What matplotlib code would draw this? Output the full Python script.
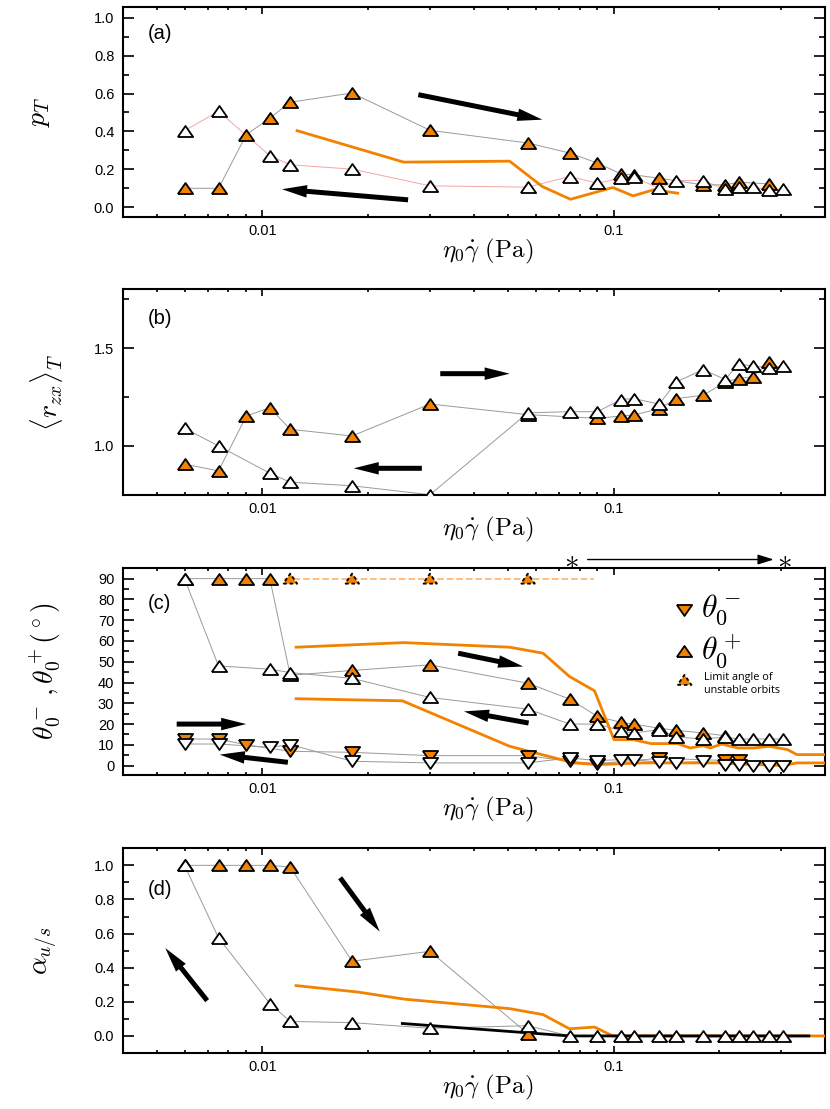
import numpy as np
import matplotlib
matplotlib.use("Agg")
import matplotlib.pyplot as plt
from matplotlib.ticker import LogLocator, NullFormatter, FixedLocator, MultipleLocator

plt.rcParams['font.family'] = ['Liberation Sans', 'DejaVu Sans']
plt.rcParams['mathtext.fontset'] = 'cm'

ORANGE = '#F28200'

# ---------------- data ----------------
# panel (a)  p_T
a_or_x = [0.006, 0.0075, 0.009, 0.0105, 0.012, 0.018, 0.030, 0.057, 0.075, 0.090, 0.105, 0.114, 0.135, 0.180, 0.208, 0.227, 0.278]
a_or_y = [0.10, 0.10, 0.383, 0.47, 0.554, 0.603, 0.406, 0.339, 0.286, 0.233, 0.176, 0.171, 0.153, 0.118, 0.118, 0.132, 0.123]
a_wh_x = [0.006, 0.0075, 0.0105, 0.012, 0.018, 0.030, 0.057, 0.075, 0.090, 0.105, 0.114, 0.135, 0.151, 0.180, 0.208, 0.227, 0.249, 0.278, 0.304]
a_wh_y = [0.404, 0.506, 0.272, 0.224, 0.201, 0.113, 0.106, 0.162, 0.127, 0.153, 0.159, 0.100, 0.141, 0.141, 0.095, 0.109, 0.106, 0.092, 0.095]
a_cur_x = [0.01255, 0.02527, 0.0506, 0.0627, 0.0754, 0.0995, 0.1137, 0.130, 0.1524]
a_cur_y = [0.404, 0.238, 0.243, 0.109, 0.042, 0.104, 0.060, 0.092, 0.074]

# panel (b)  <r_zx>_T
b_or_x = [0.006, 0.0075, 0.009, 0.0105, 0.012, 0.018, 0.030, 0.057, 0.090, 0.105, 0.114, 0.135, 0.151, 0.180, 0.208, 0.227, 0.249, 0.278]
b_or_y = [0.907, 0.873, 1.153, 1.195, 1.085, 1.051, 1.214, 1.160, 1.141, 1.153, 1.158, 1.190, 1.242, 1.259, 1.327, 1.344, 1.353, 1.429]
b_wh_x = [0.006, 0.0075, 0.0105, 0.012, 0.018, 0.030, 0.057, 0.075, 0.090, 0.105, 0.114, 0.135, 0.151, 0.180, 0.208, 0.227, 0.249, 0.278, 0.304]
b_wh_y = [1.09, 1.00, 0.861, 0.815, 0.797, 0.751, 1.169, 1.175, 1.175, 1.237, 1.242, 1.214, 1.327, 1.39, 1.339, 1.42, 1.407, 1.40, 1.407]

# panel (c)  theta0-, theta0+
c_upw_x = [0.006, 0.0075, 0.0105, 0.012, 0.018, 0.030, 0.057, 0.075, 0.090, 0.105, 0.114, 0.135, 0.151, 0.180, 0.208, 0.227, 0.249, 0.278, 0.304]
c_upw_y = [90, 48, 46.4, 44.8, 42, 32.8, 27.2, 20, 20, 16.8, 15.7, 17.3, 13.8, 12.8, 13.8, 12.8, 12.8, 12.8, 12.8]
c_upo_x = [0.006, 0.0075, 0.009, 0.0105, 0.012, 0.018, 0.030, 0.057, 0.075, 0.090, 0.105, 0.114, 0.135, 0.151, 0.180, 0.208]
c_upo_y = [90, 90, 90, 90, 43.5, 45.8, 48.5, 39.7, 32, 23.7, 20.8, 20, 18, 17, 15.7, 14.4]
c_lim_x = [0.012, 0.018, 0.030, 0.057]
c_lim_y = [90, 90, 90, 90]
c_lim_line_x = [0.0115, 0.088]
c_lim_line_y = [90, 90]
c_dnw_x = [0.006, 0.0075, 0.0105, 0.012, 0.018, 0.030, 0.057, 0.075, 0.090, 0.105, 0.114, 0.135, 0.151, 0.180, 0.208, 0.227, 0.249, 0.278, 0.304]
c_dnw_y = [10.4, 10.4, 8.8, 10.1, 2.1, 1.3, 1.3, 3.7, 2.4, 2.9, 2.9, 1.6, 1.3, 2.0, 0.5, 0.5, 0, 0, 0]
c_dno_x = [0.006, 0.0075, 0.009, 0.012, 0.018, 0.030, 0.057, 0.075, 0.090, 0.135, 0.208, 0.227]
c_dno_y = [12.8, 12.8, 10.0, 6.9, 6.4, 4.8, 4.8, 2.0, 1.0, 3.5, 2.5, 2.5]
c_cu_x = [0.01247, 0.02527, 0.0506, 0.0630, 0.0749, 0.0883, 0.1003, 0.1137, 0.128, 0.1524, 0.1652, 0.180, 0.1887, 0.2033, 0.2258, 0.2506, 0.278, 0.313, 0.3326, 0.3973]
c_cu_y = [57, 59.2, 57, 54.1, 42.9, 36, 12.5, 12.5, 10.6, 10.6, 8.5, 9.6, 8.5, 10.4, 8.5, 8.5, 9.3, 7.7, 5.3, 5.3]
c_cl_x = [0.01247, 0.02503, 0.0506, 0.0772, 0.0896, 0.1207, 0.2128, 0.304, 0.3326, 0.3973]
c_cl_y = [32.2, 31.2, 9.3, 1.3, 0.5, 1.3, 1.3, 0.0, 1.3, 1.3]

# panel (d)  alpha_u/s
d_wh_x = [0.006, 0.0075, 0.0105, 0.012, 0.018, 0.030, 0.057, 0.075, 0.090, 0.105, 0.114, 0.135, 0.151, 0.180, 0.208, 0.227, 0.249, 0.278, 0.304]
d_wh_y = [1.0, 0.575, 0.19, 0.085, 0.078, 0.045, 0.06, 0, 0, 0, 0, 0, 0, 0, 0, 0, 0, 0, 0]
d_or_x = [0.006, 0.0075, 0.009, 0.0105, 0.012, 0.018, 0.030, 0.057]
d_or_y = [1.0, 1.0, 1.0, 1.0, 0.99, 0.438, 0.496, 0.013]
d_cur_x = [0.01247, 0.01875, 0.02527, 0.0506, 0.0630, 0.0749, 0.0883, 0.0995, 0.40]
d_cur_y = [0.295, 0.257, 0.216, 0.160, 0.125, 0.042, 0.052, 0.0, 0.0]
d_blk_x = [0.02503, 0.0749, 0.36]
d_blk_y = [0.073, 0.0, 0.0]

# ---------------- style helpers ----------------
UP = [(-1, -0.72), (1, -0.72), (0, 0.72), (-1, -0.72)]
DN = [(-1, 0.72), (1, 0.72), (0, -0.72), (-1, 0.72)]
MS = 11
MEW = 1.3
GREY = '#9a9a9a'
PINK = '#f4a6a6'


def conn(ax, x, y, color=GREY):
    ax.plot(x, y, '-', color=color, lw=0.7, zorder=2)


def mark(ax, x, y, fc, marker=UP, z=4):
    ax.plot(x, y, linestyle='none', marker=marker, ms=MS, mfc=fc, mec='k', mew=MEW, zorder=z)


def arrow(ax, x0, y0, x1, y1):
    ax.annotate('', xy=(x1, y1), xytext=(x0, y0),
                arrowprops=dict(arrowstyle='simple,head_length=1.8,head_width=0.9,tail_width=0.36',
                                lw=0, fc='k', ec='none', shrinkA=0, shrinkB=0, mutation_scale=10),
                annotation_clip=False, zorder=6)


def setup(ax, ylim, major, minor, labels_fmt, ylabel, ylabel_x, panel, panel_y):
    ax.set_xscale('log')
    ax.set_xlim(0.004, 0.4)
    ax.set_ylim(*ylim)
    ax.xaxis.set_major_locator(FixedLocator([0.01, 0.1]))
    ax.set_xticklabels(['0.01', '0.1'])
    ax.xaxis.set_minor_locator(LogLocator(base=10, subs=np.arange(2, 10), numticks=20))
    ax.xaxis.set_minor_formatter(NullFormatter())
    ax.yaxis.set_major_locator(MultipleLocator(major))
    ax.yaxis.set_minor_locator(MultipleLocator(minor))
    ax.yaxis.set_major_formatter(matplotlib.ticker.FormatStrFormatter(labels_fmt))
    ax.tick_params(which='both', direction='in', top=True, right=True, width=1.2, labelsize=10.5)
    ax.tick_params(axis='x', which='major', length=5, pad=5)
    ax.tick_params(axis='x', which='minor', length=2.5)
    ax.tick_params(axis='y', which='major', length=8, pad=6)
    ax.tick_params(axis='y', which='minor', length=4)
    for s in ax.spines.values():
        s.set_linewidth(1.5)
    ax.set_xlabel(r'$\eta_0\dot{\gamma}\ (\mathrm{Pa})$', fontsize=18)
    ax.xaxis.set_label_coords(0.52, -0.095)
    ax.set_ylabel(ylabel, fontsize=20)
    ax.yaxis.set_label_coords(ylabel_x, 0.5)
    ax.text(0.036, panel_y, panel, transform=ax.transAxes, fontsize=14.5, va='center', ha='left')


fig = plt.figure(figsize=(8.3, 11.09), dpi=100)
L, W = 0.1478, 0.8461
ax_a = fig.add_axes([L, 0.8046, W, 0.1888])
ax_b = fig.add_axes([L, 0.5537, W, 0.1855])
ax_c = fig.add_axes([L, 0.3012, W, 0.1864])
ax_d = fig.add_axes([L, 0.0505, W, 0.1846])

# ---- (a)
ax = ax_a
setup(ax, (-0.05, 1.055), 0.2, 0.1, '%.1f', r'$p_T$', -0.10, '(a)', 0.877)
conn(ax, a_wh_x, a_wh_y, PINK)
conn(ax, a_or_x, a_or_y)
ax.plot(a_cur_x, a_cur_y, '-', color=ORANGE, lw=2.0, zorder=3)
mark(ax, a_or_x, a_or_y, ORANGE)
mark(ax, a_wh_x, a_wh_y, 'white', z=5)
arrow(ax, 0.0278, 0.594, 0.0627, 0.462)
arrow(ax, 0.026, 0.039, 0.01137, 0.095)

# ---- (b)
ax = ax_b
setup(ax, (0.75, 1.8), 0.5, 0.25, '%.1f', r'$\langle r_{zx}\rangle_T$', -0.082, '(b)', 0.86)
conn(ax, b_wh_x, b_wh_y)
conn(ax, b_or_x, b_or_y)
mark(ax, b_or_x, b_or_y, ORANGE)
mark(ax, b_wh_x, b_wh_y, 'white', z=5)
arrow(ax, 0.0321, 1.369, 0.0506, 1.369)
arrow(ax, 0.02845, 0.886, 0.0182, 0.886)

# ---- (c)
ax = ax_c
setup(ax, (-4.5, 95), 10, 5, '%d', r'$\theta_0^-\,,\theta_0^+(^\circ)$', -0.087, '(c)', 0.83)
conn(ax, c_upw_x, c_upw_y)
conn(ax, c_upo_x, c_upo_y)
conn(ax, c_dnw_x, c_dnw_y)
conn(ax, c_dno_x, c_dno_y)
ax.plot(c_lim_line_x, c_lim_line_y, '--', color='#FFB878', lw=1.3, zorder=2)
ax.plot(c_cu_x, c_cu_y, '-', color=ORANGE, lw=2.0, zorder=3)
ax.plot(c_cl_x, c_cl_y, '-', color=ORANGE, lw=2.0, zorder=3)
mark(ax, c_upo_x, c_upo_y, ORANGE)
mark(ax, c_upw_x, c_upw_y, 'white', z=5)
mark(ax, c_dno_x, c_dno_y, ORANGE, DN)
mark(ax, c_dnw_x, c_dnw_y, 'white', DN, z=5)
ax.scatter(c_lim_x, c_lim_y, marker=UP, s=(MS - 1) ** 2, facecolors=ORANGE, edgecolors='k',
           linewidths=1.3, linestyles=(0, (2, 1.5)), zorder=6)
arrow(ax, 0.0361, 54.1, 0.0553, 47.7)
arrow(ax, 0.0573, 20.5, 0.0375, 26.1)
arrow(ax, 0.0057, 20, 0.00899, 20)
arrow(ax, 0.01182, 1.6, 0.00756, 5.3)
# top annotation
ax.annotate('', xy=(0.286, 99.2), xytext=(0.0844, 99.2),
            arrowprops=dict(arrowstyle='-|>,head_length=0.8,head_width=0.25', lw=1.0, color='k',
                            shrinkA=0, shrinkB=0, mutation_scale=12),
            annotation_clip=False)
for xs in (0.076, 0.3057):
    ax.text(xs, 98.6, r'$\ast$', fontsize=21, ha='center', va='center', clip_on=False)
# legend
ax.plot([0.80], [0.80], transform=ax.transAxes, marker=DN, ms=MS, mfc=ORANGE, mec='k', mew=MEW,
        linestyle='none', clip_on=False)
ax.plot([0.80], [0.60], transform=ax.transAxes, marker=UP, ms=MS, mfc=ORANGE, mec='k', mew=MEW,
        linestyle='none', clip_on=False)
ax.scatter([0.80], [0.46], transform=ax.transAxes, marker=UP, s=(MS - 1) ** 2, facecolors=ORANGE,
           edgecolors='k', linewidths=1.3, linestyles=(0, (2, 1.5)), zorder=6)
ax.text(0.824, 0.80, r'$\theta_0^-$', transform=ax.transAxes, fontsize=23, va='center', ha='left')
ax.text(0.824, 0.60, r'$\theta_0^+$', transform=ax.transAxes, fontsize=23, va='center', ha='left')
ax.text(0.828, 0.44, 'Limit angle of\nunstable orbits', transform=ax.transAxes, fontsize=7.8,
        va='center', ha='left', family=['Open Sans', 'DejaVu Sans'], linespacing=1.3)

# ---- (d)
ax = ax_d
setup(ax, (-0.1, 1.1), 0.2, 0.1, '%.1f', r'$\alpha_{u/s}$', -0.09, '(d)', 0.80)
conn(ax, d_wh_x, d_wh_y)
conn(ax, d_or_x, d_or_y)
ax.plot(d_cur_x, d_cur_y, '-', color=ORANGE, lw=2.0, zorder=3)
ax.plot(d_blk_x, d_blk_y, '-', color='k', lw=2.0, zorder=3)
mark(ax, d_or_x, d_or_y, ORANGE)
mark(ax, d_wh_x, d_wh_y, 'white', z=5)
arrow(ax, 0.01665, 0.927, 0.02158, 0.612)
arrow(ax, 0.00696, 0.207, 0.00529, 0.515)

fig.savefig('out.png', dpi=100)
